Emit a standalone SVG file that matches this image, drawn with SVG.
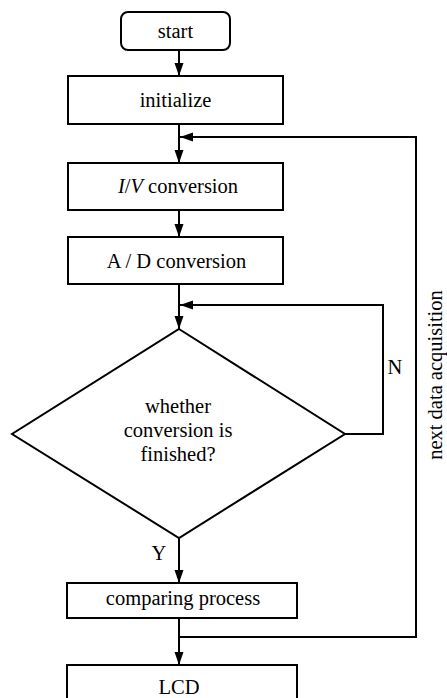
<svg xmlns="http://www.w3.org/2000/svg" width="447" height="698" viewBox="0 0 447 698">
<style>
.box{fill:#fff;stroke:#000;stroke-width:2}
.t{font-family:'Liberation Serif','Times New Roman',Tinos,'DejaVu Serif',serif;font-size:20.5px;fill:#000;text-anchor:middle}
.c{fill:none;stroke:#000;stroke-width:2}
</style>
<defs>
<marker id="ah" markerUnits="userSpaceOnUse" markerWidth="14" markerHeight="10" refX="13" refY="4.5" orient="auto">
<path d="M0,0 L13,4.5 L0,9 z" fill="#000"/>
</marker>
</defs>
<g id="connectors">
<path class="c" d="M179,50 V76" marker-end="url(#ah)"/>
<path class="c" d="M179,124 V163" marker-end="url(#ah)"/>
<path class="c" d="M179,210 V237" marker-end="url(#ah)"/>
<path class="c" d="M179,284 V329" marker-end="url(#ah)"/>
<path class="c" d="M179,538 V583" marker-end="url(#ah)"/>
<path class="c" d="M179,618 V665" marker-end="url(#ah)"/>
<path class="c" d="M345,434 H383 V305 H180" marker-end="url(#ah)"/>
<path class="c" d="M179,637 H416 V137 H180" marker-end="url(#ah)"/>
<text class="t" x="159" y="560">Y</text>
<text class="t" x="395" y="374">N</text>
<text class="t" transform="translate(442,375) rotate(-90)">next data acquisition</text>
</g>
<g id="start">
<rect class="box" x="121" y="12" width="109" height="38" rx="7"/>
<text class="t" x="175.5" y="38">start</text>
</g>
<g id="initialize">
<rect class="box" x="68" y="76" width="215" height="48"/>
<text class="t" x="175.5" y="107">initialize</text>
</g>
<g id="iv">
<rect class="box" x="68" y="163" width="215" height="47"/>
<text class="t" x="178" y="193"><tspan font-style="italic">I</tspan>/<tspan font-style="italic">V</tspan> conversion</text>
</g>
<g id="ad">
<rect class="box" x="68" y="237" width="215" height="47"/>
<text class="t" x="176.5" y="268">A / D conversion</text>
</g>
<g id="decision">
<polygon class="box" points="179,329 345,434 179,538 12,434"/>
<text class="t" x="178" y="413">whether</text>
<text class="t" x="178" y="437">conversion is</text>
<text class="t" x="178" y="461">finished?</text>
</g>
<g id="compare">
<rect class="box" x="67" y="583" width="230" height="35"/>
<text class="t" x="183" y="605">comparing process</text>
</g>
<g id="lcd">
<rect class="box" x="67" y="665" width="230" height="40"/>
<text class="t" x="179" y="694">LCD</text>
</g>
</svg>
